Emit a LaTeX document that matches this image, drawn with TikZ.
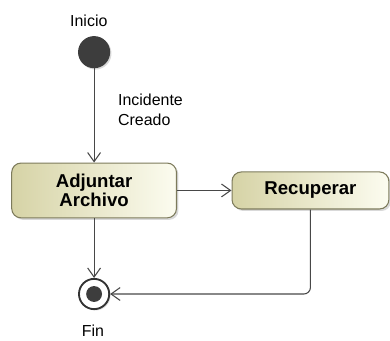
\documentclass[tikz,border=0pt]{standalone}
\usepackage{fontspec}
\setmainfont{Liberation Sans}
\usetikzlibrary{arrows.meta,positioning,shadows}
\definecolor{actdark}{RGB}{214,211,166}
\definecolor{actlight}{RGB}{252,252,240}
\definecolor{actedge}{RGB}{125,123,92}
\definecolor{flowgray}{RGB}{72,72,72}

\begin{document}
\begin{tikzpicture}[
  x=1cm,y=1cm,
  initnode/.style={circle, fill=black!76, minimum size=0.85cm, inner sep=0pt, drop shadow={shadow xshift=1pt, shadow yshift=-1pt, opacity=0.3}},
  finalnode/.style={circle, draw=black!80, line width=1.4pt, fill=white, minimum size=0.8cm, inner sep=0pt, drop shadow={shadow xshift=1pt, shadow yshift=-1pt, opacity=0.3}},
  finaldot/.style={circle, fill=black!76, minimum size=0.42cm, inner sep=0pt},
  action/.style={draw=actedge, rounded corners=7pt, left color=actdark, right color=actlight, line width=0.8pt, font=\fontsize{14}{14.5}\selectfont\bfseries, align=center, inner sep=2pt, drop shadow={shadow xshift=1.5pt, shadow yshift=-1.5pt, opacity=0.3}},
  flow/.style={-{Straight Barb[length=2.4mm,width=3.4mm]}, draw=flowgray, line width=0.8pt},
  lbl/.style={font=\fontsize{12}{15}\selectfont, inner sep=0pt, align=left}
]
  \useasboundingbox (0,0) rectangle (10.32,9.0);

  \node[lbl] (inicio) at (2.35,8.44) {Inicio};
  \node[initnode] (start) at (2.49,7.62) {};

  \node[action, minimum width=4.36cm, minimum height=1.45cm] (adjuntar) at (2.49,3.96) {Adjuntar\\Archivo};
  \node[action, minimum width=4.15cm, minimum height=0.98cm] (recuperar) at (8.215,3.96) {Recuperar};

  \node[finalnode] (fin) at (2.49,1.22) {};
  \node[finaldot] (findot) at (fin.center) {};
  \node[lbl] (finlabel) at (2.46,0.24) {Fin};

  \node[lbl, anchor=west] (incidente) at (3.12,6.09) {Incidente\\Creado};

  \draw[flow] (start) -- (adjuntar);
  \draw[flow] (adjuntar) -- (recuperar);
  \draw[flow] (adjuntar) -- (fin);
  \draw[flow, rounded corners=5pt] (recuperar.south) |- (fin.east);
\end{tikzpicture}
\end{document}
